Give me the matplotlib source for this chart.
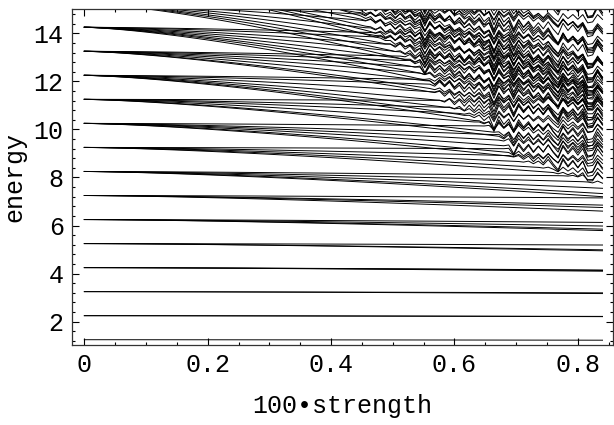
import numpy as np
import matplotlib
matplotlib.use('Agg')
import matplotlib.pyplot as plt
from matplotlib.ticker import MultipleLocator

# zero-strength levels
levels = [1.25, 2.25, 3.25, 4.25, 5.25, 6.25, 7.25, 8.25, 9.25,
          10.25, 11.25, 12.25, 13.25, 14.25, 15.25, 16.25, 17.25, 18.25]

# how far each branch of a level has dropped at the right edge (strength 0.84)
branch_drop = [
    [0.02],
    [0.03, 0.04],
    [0.05, 0.08],
    [0.10, 0.12, 0.15],
    [0.06, 0.26, 0.30],
    [0.12, 0.27, 0.40, 0.46],
    [0.10, 0.40, 0.50, 0.65],
    [0.20, 0.45, 0.70, 0.92, 1.05],
    [0.07, 0.45, 0.75, 1.00, 1.20],
    [0.15, 0.65, 0.95, 1.25, 1.60, 1.80],
    [0.07, 0.55, 0.92, 1.40, 1.90, 2.10],
    [0.30, 0.65, 1.20, 1.77, 2.20, 2.56, 2.80],
    [0.40, 0.75, 1.20, 1.67, 2.20, 2.73, 2.97],
    [0.50, 0.90, 1.50, 2.05, 2.60, 3.10, 3.50, 3.95],
    [0.60, 1.10, 1.70, 2.40, 3.00, 3.60, 4.10, 4.60],
    [0.70, 1.30, 2.00, 2.70, 3.40, 4.00, 4.60, 5.00, 5.40],
    [0.80, 1.50, 2.30, 3.10, 3.80, 4.50, 5.10, 5.60, 6.10],
    [0.90, 1.70, 2.60, 3.40, 4.20, 4.90, 5.50, 6.00, 6.50, 6.90],
]

# lower edge of the noisy (zigzag) region
noise_x = [0.44, 0.47, 0.555, 0.58, 0.63, 0.67, 0.70, 0.78, 0.84]
noise_floor = [15.2, 14.1, 12.4, 11.2, 10.6, 10.0, 8.9, 8.25, 7.85]

# zigzag seen in the noisy region, one value per sample from strength 0.44
zigzag = [0.0, 0.5, -0.4, 0.6, -0.3, 0.7, -0.5, 0.4, -0.6, 0.7, -0.4, 0.6,
          -0.7, 0.5, -2.0, 0.8, -0.6, 0.7, -0.5, 0.8, -0.7, 0.6, -0.8, 0.7,
          -0.6, 0.9, -0.7, 0.6, -2.2, 1.0, -0.8, 0.7, -1.8, 0.9, -0.7, 0.8,
          -0.9, 0.6, -0.8, 1.0, -0.7, -2.0, 0.9, -0.8, 0.7, -0.9, 0.8, -2.0,
          -1.6, 1.0, -0.6]

x_end = 0.84
step = 0.008
xs = np.round(np.arange(0, x_end + step / 2, step), 4)
n_quiet = len(xs) - len(zigzag)
zig = np.concatenate([np.zeros(n_quiet), np.array(zigzag)])
floor = np.interp(xs, noise_x, noise_floor, left=99, right=noise_floor[-1])
bend = (xs / x_end) ** 1.4

fig = plt.figure(figsize=(6.14, 4.25), dpi=100)
ax = fig.add_axes([72 / 614, 1 - 345 / 425, 541 / 614, 336 / 425])

k = 0
for e0, drops in zip(levels, branch_drop):
    for d in drops:
        smooth = e0 - d * bend
        w = np.clip((smooth - floor + 0.2) / 0.4, 0, 1)
        amp = 0.17 if k % 2 == 0 else 0.12
        y = smooth + amp * w * zig
        ax.plot(xs, y, color='black', lw=0.7)
        k += 1

ax.set_xlim(-0.02, 0.857)
ax.set_ylim(1.03, 15.01)
ax.xaxis.set_major_locator(MultipleLocator(0.2))
ax.xaxis.set_minor_locator(MultipleLocator(0.05))
ax.yaxis.set_major_locator(MultipleLocator(2))
ax.yaxis.set_minor_locator(MultipleLocator(0.4))
ax.set_xticks([0, 0.2, 0.4, 0.6, 0.8])
ax.set_xticklabels(['0', '0.2', '0.4', '0.6', '0.8'])

font = 'Liberation Mono'
ax.tick_params(which='both', direction='in', top=True, right=True,
               width=0.8, labelsize=18)
ax.tick_params(which='major', length=5, pad=6)
ax.tick_params(which='minor', length=2.5)
for lab in ax.get_xticklabels() + ax.get_yticklabels():
    lab.set_family(font)
for sp in ax.spines.values():
    sp.set_linewidth(0.9)
    sp.set_color('#333333')

ax.set_xlabel('100\u2022strength', family=font, fontsize=18, labelpad=12)
ax.set_ylabel('energy', family=font, fontsize=18, labelpad=5)

fig.savefig('out.png', dpi=100)
